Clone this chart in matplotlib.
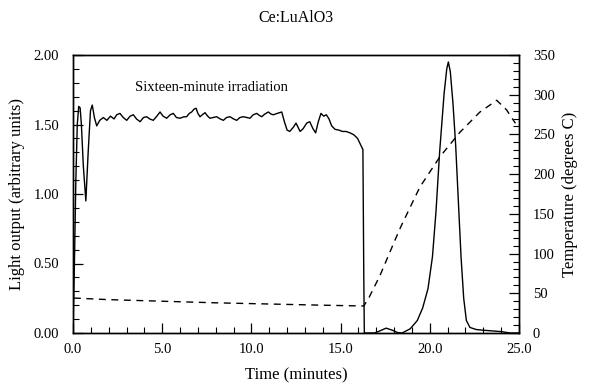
import matplotlib.pyplot as plt
from matplotlib.ticker import MultipleLocator, FormatStrFormatter

# Light output (solid line), minutes vs arbitrary units
time_light = [0.0, 0.08, 0.16, 0.24, 0.32, 0.40, 0.47, 0.58, 0.72, 0.85, 0.98, 1.08,
              1.2, 1.33, 1.5, 1.7, 1.9, 2.1, 2.3, 2.45, 2.63, 2.82, 3.01, 3.2, 3.38,
              3.56, 3.76, 3.95, 4.13, 4.3, 4.5, 4.7, 4.88, 5.05, 5.25, 5.45, 5.62, 5.8,
              6.0, 6.2, 6.37, 6.52, 6.65, 6.78, 6.9, 7.0, 7.12, 7.25, 7.4, 7.55, 7.68,
              7.85, 8.05, 8.25, 8.43, 8.6, 8.8, 9.0, 9.18, 9.35, 9.55, 9.75, 9.92, 10.1,
              10.3, 10.45, 10.58, 10.75, 10.95, 11.1, 11.23, 11.45, 11.7, 11.85, 12.0,
              12.15, 12.35, 12.5, 12.73, 12.9, 13.1, 13.27, 13.45, 13.6, 13.75, 13.9,
              14.05, 14.2, 14.35, 14.5, 14.69, 14.9, 15.1, 15.3, 15.53, 15.75, 15.95,
              16.1, 16.25, 16.3, 16.33, 16.9, 17.2, 17.55, 17.9, 18.2, 18.45, 18.9,
              19.3, 19.6, 19.9, 20.15, 20.35, 20.55, 20.8, 20.95, 21.04, 21.15, 21.3,
              21.45, 21.6, 21.75, 21.9, 22.05, 22.25, 22.6, 23.0, 23.5, 24.0, 24.5, 25.0]
light = [0.0, 0.5, 1.1, 1.5, 1.63, 1.62, 1.5, 1.2, 0.95, 1.3, 1.6, 1.64,
         1.55, 1.49, 1.53, 1.55, 1.53, 1.56, 1.54, 1.57, 1.58, 1.55, 1.53, 1.56, 1.57,
         1.54, 1.52, 1.55, 1.556, 1.54, 1.53, 1.56, 1.59, 1.56, 1.545, 1.57, 1.58, 1.55,
         1.545, 1.555, 1.556, 1.58, 1.59, 1.61, 1.617, 1.58, 1.556, 1.57, 1.585, 1.56, 1.545,
         1.55, 1.556, 1.54, 1.53, 1.55, 1.556, 1.54, 1.53, 1.55, 1.556, 1.55, 1.545, 1.57,
         1.58, 1.565, 1.556, 1.575, 1.59, 1.575, 1.57, 1.58, 1.59, 1.52, 1.46,
         1.45, 1.48, 1.51, 1.45, 1.47, 1.51, 1.52, 1.47, 1.44, 1.52, 1.58,
         1.56, 1.57, 1.54, 1.49, 1.465, 1.46, 1.45, 1.45, 1.44, 1.425, 1.40,
         1.36, 1.32, 0.4, 0.0, 0.0, 0.015, 0.035, 0.02, 0.003, 0.0, 0.03,
         0.09, 0.18, 0.32, 0.55, 0.88, 1.30, 1.72, 1.90, 1.95, 1.88, 1.65,
         1.35, 0.95, 0.55, 0.25, 0.09, 0.04, 0.025, 0.02, 0.015, 0.01, 0.0, 0.0]

# Temperature (dashed line), degrees C
time_temp = [0.05, 2.0, 5.0, 8.0, 11.0, 14.0, 16.3, 16.6, 17.2, 18.05, 18.4, 19.45,
             20.57, 21.7, 22.8, 23.75, 24.3, 24.8]
temp = [44, 42, 40, 38, 36.5, 35, 34, 45, 72, 117, 135, 184,
        222, 253, 278, 293, 281, 264]

x_ticks = [0, 5, 10, 15, 20, 25]

plt.rcParams['font.family'] = ['Liberation Serif', 'DejaVu Serif']
plt.rcParams['font.size'] = 10

fig = plt.figure(figsize=(5.9, 3.86), dpi=100)
ax = fig.add_axes([73 / 590, 1 - 333 / 386, 446 / 590, 278 / 386])
ax2 = ax.twinx()

ax.plot(time_light, light, color='black', lw=1.0)
ax2.plot(time_temp, temp, color='black', lw=1.0, linestyle=(0, (5, 4)))

ax.set_xlim(0, 25)
ax.set_ylim(0, 2.0)
ax2.set_ylim(0, 350)

ax.set_xticks(x_ticks)
ax.xaxis.set_major_formatter(FormatStrFormatter('%.1f'))
ax.xaxis.set_minor_locator(MultipleLocator(1))
ax.yaxis.set_major_locator(MultipleLocator(0.5))
ax.yaxis.set_major_formatter(FormatStrFormatter('%.2f'))
ax.yaxis.set_minor_locator(MultipleLocator(0.1))
ax2.yaxis.set_major_locator(MultipleLocator(50))
ax2.yaxis.set_minor_locator(MultipleLocator(10))

ax.tick_params(axis='x', which='both', direction='in', top=False, pad=7, labelsize=10.5)
ax.tick_params(axis='y', which='both', direction='in', right=False, pad=10, labelsize=10.5)
ax.tick_params(which='major', length=7, width=0.9)
ax.tick_params(which='minor', length=4.5, width=0.8)
ax2.tick_params(axis='y', which='both', direction='in', pad=10, labelsize=10.5)
ax2.tick_params(which='major', length=7, width=0.9)
ax2.tick_params(which='minor', length=4.5, width=0.8)

for a in (ax, ax2):
    for s in a.spines.values():
        s.set_linewidth(1.0)

ax.set_xlabel('Time (minutes)', fontsize=12)
ax.set_ylabel('Light output (arbitrary units)', fontsize=12)
ax2.set_ylabel('Temperature (degrees C)', fontsize=12)
ax.xaxis.set_label_coords(0.5, -0.125)
ax.yaxis.set_label_coords(-0.108, 0.5)
ax2.yaxis.set_label_coords(1.096, 0.5)

ax.text(3.48, 1.763, 'Sixteen-minute irradiation', fontsize=10.5, va='center', ha='left')
fig.text(296 / 590, 1 - 18 / 386, 'Ce:LuAlO3', fontsize=11.5, ha='center', va='center')

fig.savefig('out.png', dpi=100)
